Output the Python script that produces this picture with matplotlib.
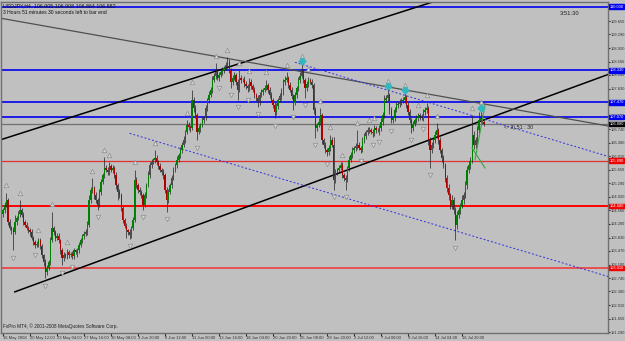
# USDJPY H4 chart, MT4 style
import numpy as np
import matplotlib.pyplot as plt
from matplotlib.transforms import blended_transform_factory

plt.rcParams['font.family'] = ['Liberation Sans', 'DejaVu Sans']

# H4 closes, 16 May 2008 00:00 .. 18 Jul 2008
closes = [
    104.57, 104.70, 104.84, 104.25, 104.09, 104.03, 103.98, 104.25, 104.36, 104.46,
    104.57, 104.44, 104.25, 104.17, 104.09, 104.03, 103.98, 103.82, 103.71, 103.63,
    103.66, 103.76, 103.60, 103.36, 103.17, 102.90, 103.01, 103.17, 103.76, 104.09,
    103.98, 103.82, 103.87, 103.76, 103.49, 103.28, 103.36, 103.33, 103.44, 103.36,
    103.39, 103.33, 103.49, 103.44, 103.49, 103.63, 103.76, 103.87, 103.92, 103.98,
    104.17, 104.84, 105.11, 105.16, 104.97, 104.84, 104.70, 105.05, 105.32, 105.51,
    105.70, 105.65, 105.59, 105.75, 105.65, 105.70, 105.51, 105.24, 105.05, 104.97,
    104.62, 104.30, 104.14, 104.03, 103.98, 103.90, 104.09, 104.30, 105.38, 105.24,
    105.11, 105.05, 104.97, 104.70, 104.97, 105.24, 105.51, 105.78, 105.86, 105.92,
    105.97, 105.86, 105.75, 105.65, 105.59, 105.51, 105.11, 104.84, 105.05, 105.24,
    105.43, 105.65, 105.78, 105.92, 106.05, 106.18, 106.32, 106.45, 106.67, 106.86,
    106.80, 106.77, 107.53, 107.31, 107.12, 106.67, 106.77, 106.86, 106.99, 107.04,
    107.31, 107.53, 107.66, 107.80, 108.07, 108.17, 108.28, 108.12, 108.20, 108.28,
    108.33, 108.39, 108.47, 108.55, 108.33, 108.01, 108.12, 108.20, 108.01, 107.80,
    108.12, 108.07, 108.07, 107.96, 107.90, 107.85, 108.01, 107.90, 107.80, 107.66,
    107.58, 107.47, 107.66, 107.74, 107.80, 107.85, 107.93, 107.80, 107.66, 107.53,
    107.39, 107.20, 107.37, 107.53, 107.63, 107.74, 108.01, 108.07, 108.12, 107.93,
    107.80, 107.63, 107.45, 107.66, 107.85, 108.07, 108.17, 108.28, 108.07, 107.85,
    107.96, 108.07, 108.01, 107.93, 107.26, 106.77, 106.86, 106.94, 107.12, 106.45,
    106.32, 106.18, 106.13, 106.24, 106.45, 106.32, 105.38, 105.59, 105.65, 105.70,
    105.78, 105.51, 105.43, 105.38, 105.70, 105.92, 106.05, 106.18, 106.24, 106.29,
    106.32, 106.24, 106.18, 106.45, 106.56, 106.67, 106.72, 106.72, 106.67, 106.64,
    106.77, 106.72, 106.72, 106.77, 106.94, 107.12, 107.53, 107.58, 107.66, 107.26,
    106.99, 107.04, 107.26, 107.39, 107.42, 107.47, 107.50, 107.53, 107.61, 107.39,
    107.20, 106.99, 106.77, 106.88, 106.99, 107.04, 107.12, 107.07, 107.04, 107.20,
    107.26, 107.31, 106.45, 106.18, 106.32, 106.45, 106.59, 106.72, 106.45, 106.18,
    105.97, 105.78, 105.43, 105.16, 104.97, 104.70, 104.84, 104.57, 104.17, 104.44,
    104.57, 104.70, 104.84, 104.97, 105.24, 105.65, 105.78, 105.92, 106.59, 106.32,
    106.45, 106.72, 106.99, 107.04, 106.94, 106.88,
]
first_open = 104.45

# wicks in pips (0.01)
up_wick = [
    6, 8, 19, 5, 7, 4, 9, 19, 6, 8,  27, 5, 7, 4, 8, 6, 5, 9, 4, 6,
    8, 7, 5, 6, 4, 7, 9, 5, 8, 43,  6, 5, 9, 7, 4, 6, 8, 5, 7, 6,
    5, 8, 6, 4, 7, 9, 5, 6, 8, 7,  10, 12, 8, 27, 6, 9, 5, 8, 7, 6,
    29, 8, 7, 10, 6, 9, 5, 7, 6, 8,  5, 7, 6, 8, 4, 9, 6, 7, 27, 8,
    6, 9, 5, 7, 8, 6, 10, 7, 8, 6,  21, 7, 5, 9, 6, 8, 5, 7, 9, 6,
    8, 7, 6, 9, 5, 8, 7, 10, 6, 13,  8, 6, 27, 9, 7, 6, 8, 5, 9, 7,
    8, 6, 10, 7, 9, 8, 24, 6, 9, 7,  8, 6, 9, 13, 7, 5, 8, 9, 6, 7,
    21, 8, 6, 9, 7, 5, 10, 7, 6, 8,  6, 9, 7, 8, 5, 9, 14, 6, 7, 8,
    5, 9, 7, 6, 8, 10, 7, 9, 16, 6,  8, 7, 5, 9, 6, 8, 10, 24, 7, 6,
    9, 8, 6, 7, 5, 8, 6, 9, 19, 7,  6, 8, 5, 9, 14, 7, 21, 8, 6, 9,
    7, 8, 5, 9, 6, 10, 7, 8, 6, 9,  40, 7, 6, 8, 9, 5, 7, 8, 6, 9,
    8, 7, 6, 9, 10, 8, 12, 7, 19, 6,  8, 5, 9, 7, 6, 8, 7, 9, 13, 6,
    7, 8, 6, 9, 5, 8, 7, 6, 9, 8,  7, 14, 6, 9, 8, 7, 10, 19, 6, 8,
    7, 9, 6, 8, 10, 7, 12, 9, 8, 11,  9, 7, 12, 8, 10, 9, 11, 8, 53, 10,
    9, 12, 21, 22, 8, 6,
]
dn_wick = [
    7, 9, 5, 8, 6, 10, 49, 5, 7, 6,  8, 6, 9, 7, 5, 8, 10, 6, 9, 7,
    6, 8, 9, 7, 10, 16, 8, 6, 9, 5,  7, 9, 6, 8, 10, 19, 7, 6, 9, 8,
    6, 9, 7, 5, 13, 8, 6, 9, 7, 5,  8, 6, 9, 7, 10, 8, 12, 6, 7, 5,
    8, 6, 9, 7, 5, 8, 9, 10, 21, 7,  9, 8, 6, 21, 7, 10, 8, 6, 5, 9,
    8, 7, 9, 13, 6, 8, 5, 7, 9, 6,  8, 7, 9, 6, 8, 10, 9, 32, 7, 6,
    8, 5, 7, 9, 6, 8, 7, 5, 9, 6,  7, 9, 6, 10, 8, 22, 7, 9, 6, 8,
    5, 7, 9, 6, 8, 7, 9, 6, 8, 5,  7, 9, 6, 8, 7, 16, 9, 6, 8, 27,
    7, 9, 6, 8, 7, 11, 8, 9, 6, 8,  7, 13, 9, 6, 8, 7, 6, 9, 8, 7,
    9, 16, 7, 8, 6, 9, 7, 8, 6, 9,  7, 8, 19, 6, 9, 7, 8, 6, 9, 27,
    7, 8, 6, 9, 10, 26, 8, 7, 9, 10,  8, 9, 12, 7, 8, 6, 27, 9, 7, 8,
    6, 9, 8, 27, 7, 8, 6, 9, 7, 8,  9, 7, 8, 6, 9, 7, 8, 9, 6, 11,
    7, 8, 6, 13, 7, 9, 8, 6, 9, 10,  9, 7, 8, 6, 9, 7, 8, 6, 9, 7,
    8, 9, 13, 7, 6, 8, 9, 7, 6, 8,  7, 9, 12, 48, 8, 9, 7, 8, 10, 9,
    11, 9, 12, 10, 14, 9, 11, 12, 41, 10,  9, 12, 8, 10, 9, 11, 8, 10, 9, 12,
    8, 10, 9, 8, 7, 6,
]

ytick_vals = [101.29, 101.65, 102.01, 102.38, 102.74, 103.10, 103.47, 103.83,
              104.20, 104.56, 104.92, 105.29, 105.65, 106.01, 106.38, 106.74,
              107.10, 107.47, 107.83, 108.20, 108.56, 108.92, 109.29, 109.65, 110.01]
xtick_bars = [0, 16, 32, 48, 64, 80, 96, 112, 128, 144, 160, 176, 192, 208, 224, 240, 256, 272]
xtick_labels = ['16 May 2008', '20 May 12:00', '23 May 04:00', '27 May 16:00', '30 May 08:00',
                '3 Jun 20:00', '6 Jun 12:00', '11 Jun 00:00', '13 Jun 16:00', '18 Jun 04:00',
                '20 Jun 20:00', '25 Jun 08:00', '29 Jun 20:00', '2 Jul 12:00', '7 Jul 00:00',
                '9 Jul 16:00', '14 Jul 04:00', '16 Jul 20:00']

blue_levels = [110.03, 108.33, 107.47, 107.07]
red_levels = [105.89, 104.68, 103.01]

# trendlines: (bar, price) anchors, extended to the right edge
channel_up = [(-2, 106.45), (240, 109.95)]
channel_lo = [(7, 102.37), (300, 107.24)]
gray_line = [(-2, 109.73), (300, 107.30)]
dot_up = [(173, 108.54), (330, 106.40)]
dot_lo = [(75, 106.63), (330, 103.17)]
green_lines = [[(279.7, 105.92), (285.6, 107.39)], [(277.9, 106.24), (285.6, 105.70)]]
cyan_bars = [177, 228, 238, 283]

closes = np.array(closes)
opens = np.concatenate([[first_open], closes[:-1]])
highs = np.maximum(opens, closes) + np.array(up_wick) / 100
lows = np.minimum(opens, closes) - np.array(dn_wick) / 100
idx = np.arange(len(closes))

bg = '#C0C0C0'
fig = plt.figure(figsize=(6.25, 3.41), dpi=100, facecolor=bg)
ax = fig.add_axes([1 / 625, 8 / 341, 607 / 625, 331 / 341])
ax.set_facecolor(bg)
xmax = 358.5
ax.set_xlim(-1.19, xmax)
ax.set_ylim(101.264, 110.161)

# levels
for lv in blue_levels:
    ax.axhline(lv, color='#0000F0', lw=1.2, zorder=1)
ax.axhline(red_levels[0], color='#E03030', lw=0.9, zorder=1)
ax.axhline(red_levels[1], color='#FF0000', lw=1.4, zorder=1)
ax.axhline(red_levels[2], color='#E85050', lw=1.4, zorder=1)
ax.axhline(closes[-1], color='#707070', lw=0.9, zorder=1)


def ray(pts, **kw):
    (x0, y0), (x1, y1) = pts
    k = (y1 - y0) / (x1 - x0)
    ax.plot([x0, xmax], [y0, y0 + k * (xmax - x0)], **kw)


ray(channel_up, color='black', lw=1.1, zorder=2)
ray(channel_lo, color='black', lw=1.1, zorder=2)
ray(gray_line, color='#505050', lw=0.9, zorder=2)
ray(dot_up, color='#3030E0', lw=0.7, ls=(0, (2, 2)), zorder=2)
ray(dot_lo, color='#3030E0', lw=0.7, ls=(0, (2, 2)), zorder=2)
for gl in green_lines:
    ax.plot([gl[0][0], gl[1][0]], [gl[0][1], gl[1][1]], color='#40A040', lw=0.8, zorder=4)

# candles
ax.vlines(idx, lows, highs, color='#202020', lw=0.5, zorder=3)
bull = closes >= opens
ax.bar(idx[bull], (closes - opens)[bull], bottom=opens[bull], width=0.75,
       color='#008000', lw=0, zorder=3.5)
ax.bar(idx[~bull], (closes - opens)[~bull], bottom=opens[~bull], width=0.75,
       color='#B00000', lw=0, zorder=3.5)

# fractals
fu = [i for i in range(2, len(idx) - 2)
      if highs[i] > max(highs[i - 2], highs[i - 1], highs[i + 1], highs[i + 2])]
fd = [i for i in range(2, len(idx) - 2)
      if lows[i] < min(lows[i - 2], lows[i - 1], lows[i + 1], lows[i + 2])]
ax.plot(fu, highs[fu] + 0.2, ls='none', marker='^', ms=3.2, mfc='#D8D8D8',
        mec='#8A8A8A', mew=0.5, zorder=4)
ax.plot(fd, lows[fd] - 0.2, ls='none', marker='v', ms=3.2, mfc='#D8D8D8',
        mec='#8A8A8A', mew=0.5, zorder=4)
ax.plot(cyan_bars, highs[cyan_bars] + 0.05, ls='none', marker='D', ms=3.5,
        color='#30B8C0', zorder=5)

# axes look
for s in ax.spines.values():
    s.set_color('#707070')
    s.set_linewidth(1)
ax.yaxis.tick_right()
ax.set_yticks(ytick_vals)
ax.set_yticklabels([f'{v:.3f}' for v in ytick_vals])
ax.tick_params(axis='y', labelsize=2.9, length=1.5, pad=0.6, colors='#303030')
ax.set_xticks(xtick_bars)
ax.set_xticklabels(xtick_labels)
ax.tick_params(axis='x', labelsize=3.0, length=2, pad=0.3, colors='#303030')
for lab in ax.get_xticklabels():
    lab.set_ha('left')

tr = blended_transform_factory(ax.transAxes, ax.transData)
for lv, c in [(blue_levels[0], '#0000F0'), (blue_levels[1], '#0000F0'), (blue_levels[2], '#0000F0'),
              (blue_levels[3], '#0000F0'), (closes[-1], '#000000'), (red_levels[0], '#F00000'),
              (red_levels[1], '#F00000'), (red_levels[2], '#F00000')]:
    ax.text(1.003, lv, f'{lv:.3f}', transform=tr, fontsize=2.9, color='white', va='center',
            ha='left', clip_on=False, zorder=6,
            bbox=dict(facecolor=c, edgecolor=c, pad=0.3))

# texts
ax.text(0.004, 0.997, 'USDJPY,H4  106.905 106.908 106.864 106.882', transform=ax.transAxes,
        fontsize=3.8, va='top', ha='left', color='#101010')
ax.text(0.004, 0.975, '3 Hours 51 minutes 30 seconds left to bar end', transform=ax.transAxes,
        fontsize=3.6, va='top', ha='left', color='#101010')
ax.text(0.92, 0.965, '3:51:30', transform=ax.transAxes, fontsize=4.2, va='center',
        ha='left', color='#202020')
ax.text(297, closes[-1] - 0.08, '<- 3) 51 : 30', fontsize=3.8, va='center', ha='left',
        color='#202020', zorder=6)
ax.text(0.003, 0.012, 'FxPro MT4, \u00a9 2001-2008 MetaQuotes Software Corp.',
        transform=ax.transAxes, fontsize=3.4, va='bottom', ha='left', color='#202020')

fig.savefig('out.png', dpi=100, facecolor=bg)
